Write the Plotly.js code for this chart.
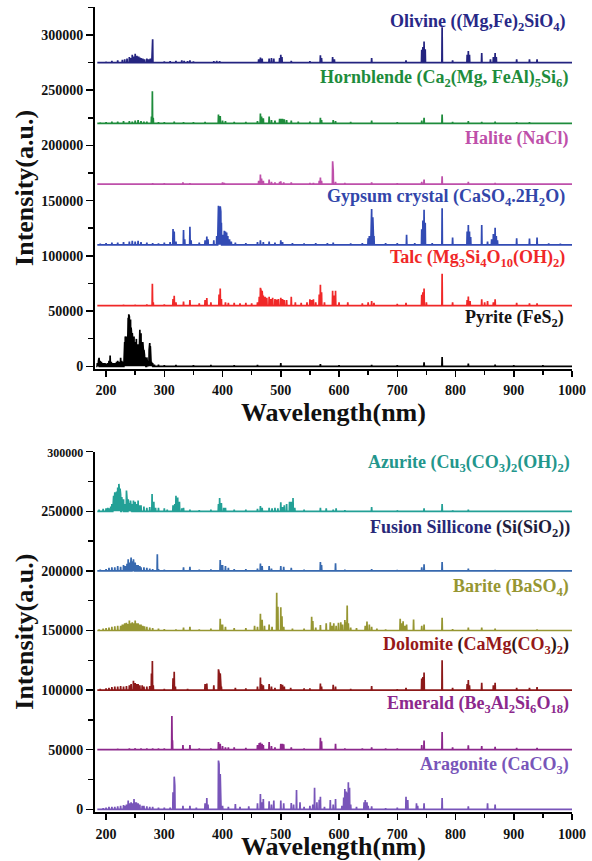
<!DOCTYPE html>
<html>
<head>
<meta charset="utf-8">
<script src="https://cdn.plot.ly/plotly-3.0.1.min.js"></script>
<style>html,body{margin:0;padding:0;background:#fff}</style>
</head>
<body>
<div id="chart" style="width:592px;height:861px"></div>
<script>
// ---- DATA: [wavelength (nm), intensity above the spectrum's offset (a.u.)] ----
const olivine = [[200,800],[210,1500],[220,2000],[228,2500],[232,3000],[236,3500],[240,5000],[242,4000],[245,7000],[248,5500],[250,8000],[253,6000],[256,5500],[258,4500],[260,4000],[263,3500],[266,3000],[270,3500],[273,3000],[276,3500],[279,18000],[280,21000],[300,1000],[310,1200],[320,1500],[330,2000],[334,1500],[340,1200],[344,2000],[350,1000],[385,1200],[390,1500],[395,1200],[462,3000],[465,4500],[468,3500],[480,3500],[484,4000],[488,3500],[498,4000],[500,7000],[502,5000],[518,1500],[550,1200],[568,6500],[570,4000],[589,5000],[592,3000],[656,4000],[715,2000],[742,11500],[744,14000],[746,19000],[748,12000],[777,32000],[795,2000],[820,7000],[822,10500],[824,7000],[845,8500],[860,3000],[865,5000],[868,8500],[870,5000],[905,3000],[927,2800],[940,3000]];
const hornblende = [[190,800],[200,1000],[210,1500],[220,1500],[230,2000],[240,2000],[245,1500],[250,2500],[255,3000],[260,2000],[265,1500],[270,1500],[278,6000],[279.5,29000],[281,5000],[290,1000],[300,1000],[317,1500],[333,1000],[350,1000],[370,1200],[393,8000],[396,6500],[400,2500],[405,2000],[420,1200],[440,1200],[460,2000],[465,8800],[467,6000],[470,4500],[480,6000],[484,3000],[490,2500],[498,4000],[500,4000],[503,4000],[506,3500],[510,3000],[518,2500],[530,1500],[550,1500],[568,5000],[570,3000],[590,3000],[594,2000],[620,1200],[656,2500],[700,1000],[742,2500],[746,5000],[777,7900],[795,1200],[822,2000],[845,1200],[868,1500],[905,1000],[927,1000]];
const halite = [[280,800],[300,600],[332,1500],[344,800],[400,1500],[403,1000],[462,3000],[465,8500],[467,5000],[470,3000],[480,4000],[484,2000],[490,1500],[498,2000],[500,2500],[505,1500],[518,1500],[550,1000],[556,1000],[566,3000],[568,6000],[570,3000],[589,20600],[590,12000],[594,2000],[610,1000],[656,1500],[700,800],[742,2000],[746,4000],[777,7000],[822,2000],[868,1000]];
const gypsum = [[190,1000],[200,1500],[210,2000],[220,2000],[230,2500],[240,3000],[245,3500],[250,3000],[255,3500],[260,2500],[270,2000],[280,1500],[290,1200],[300,2000],[310,2500],[315,14200],[317,12000],[320,3000],[333,13300],[335,5000],[344,16400],[346,4000],[360,2000],[370,4000],[373,7500],[375,5000],[385,4000],[390,8000],[392,33000],[393,35400],[394,34000],[395,34000],[396,34800],[397,30000],[398,20000],[400,9000],[403,12700],[405,12000],[407,11000],[409,8000],[412,5000],[415,3000],[422,2000],[440,1500],[460,2500],[465,4000],[470,2500],[480,3000],[490,2000],[500,4000],[503,2500],[520,1500],[540,1200],[560,1500],[580,1500],[590,2000],[620,1200],[640,1500],[650,6000],[652,8000],[655,30000],[656,32400],[658,25000],[660,8000],[680,1500],[700,1500],[716,9000],[730,1500],[742,14000],[744,22000],[746,31800],[748,20000],[760,1500],[777,33000],[795,6600],[820,12000],[822,17900],[824,12000],[826,7000],[845,17900],[855,3000],[862,5000],[865,9700],[868,15500],[870,8000],[872,4000],[905,6000],[927,5700],[940,6600],[960,1200],[980,1000]];
const talc = [[230,800],[250,800],[270,1000],[279.5,19700],[281,3000],[300,1000],[315,6000],[317,8800],[320,3000],[333,3500],[344,5000],[360,2000],[370,5000],[373,6700],[380,3000],[394,10000],[396,15500],[398,6000],[405,3000],[410,2500],[420,2500],[430,2000],[440,2500],[450,2000],[460,3000],[463,8000],[465,16000],[466,14000],[468,13300],[470,9000],[473,8000],[476,7000],[480,8000],[483,6000],[486,7000],[490,6000],[493,5500],[496,6000],[500,7000],[503,6000],[506,5000],[510,5000],[518,8000],[525,3000],[535,2500],[545,3000],[550,5700],[553,5000],[556,5700],[560,3000],[566,10000],[568,18800],[570,12000],[575,3000],[589,13300],[591,9000],[594,13300],[600,3000],[615,3000],[640,2000],[650,3000],[656,4000],[660,2500],[700,1500],[715,2500],[742,9700],[744,12000],[746,15500],[750,3000],[777,28800],[795,3000],[820,5000],[822,8200],[825,4000],[845,5700],[850,3000],[855,4000],[865,3000],[868,5700],[905,2500],[927,2000],[940,2000]];
const pyrite = [[185,3000],[187,5000],[188,7600],[190,5000],[192,4000],[195,3000],[198,3000],[200,2500],[203,3000],[205,5000],[207,9700],[209,4000],[212,3000],[215,3000],[218,4000],[220,5000],[222,4000],[225,7600],[227,5000],[229,4000],[231,10000],[232,22000],[233,27000],[234,25000],[235,27000],[236,20000],[237,35000],[238,44000],[239,47000],[240,45000],[241,38000],[242,42400],[243,35000],[244,28000],[245,30000],[246,22000],[247,20000],[248,27000],[249,18000],[250,22000],[251,20000],[252,24800],[253,18000],[254,15000],[255,20000],[256,14000],[257,18000],[258,33000],[259,28000],[260,30000],[261,20000],[262,18000],[263,22000],[264,15000],[265,15000],[266,10000],[267,8000],[268,6000],[270,8000],[272,5000],[274,15000],[275,21000],[276,18000],[278,4000],[280,3000],[283,1500],[290,1500],[300,1000],[320,1200],[350,1000],[380,1200],[420,1000],[460,1200],[500,3000],[568,2000],[600,1000],[656,1200],[700,1000],[746,3500],[777,8500],[822,2500],[868,1500],[900,1000],[950,1000]];
const azurite = [[188,1500],[195,2000],[200,2500],[203,3000],[205,2500],[208,4000],[210,6000],[212,9000],[213,13000],[214,11000],[215,16000],[216,12000],[217,14000],[218,16500],[219,13000],[220,20000],[221,15000],[222,23000],[223,17000],[224,19000],[225,14000],[227,12000],[229,8000],[230,10000],[232,6000],[235,17400],[236,10000],[238,10000],[240,7000],[242,9000],[244,6000],[247,9000],[250,8000],[252,6000],[255,9000],[258,5000],[260,5000],[265,4000],[270,3000],[275,3500],[279,14500],[282,8000],[285,3000],[290,3000],[300,2500],[305,1500],[315,5000],[318,6000],[320,13000],[323,11600],[326,8000],[330,2500],[333,3000],[344,1500],[360,1000],[380,1500],[393,6000],[395,11200],[398,7000],[402,3000],[405,3000],[420,1500],[440,1500],[460,2000],[465,4500],[468,3000],[480,3000],[485,2500],[490,3000],[495,2500],[500,7500],[503,3500],[506,5000],[510,6200],[515,8100],[518,8000],[521,11200],[524,3000],[540,1500],[568,3000],[578,2500],[590,1500],[595,2500],[610,1000],[656,3500],[700,800],[746,2500],[777,6200],[795,800],[822,1500]];
const fusionSilicone = [[190,1000],[200,1500],[205,2500],[210,3000],[215,3000],[220,4000],[225,3500],[230,5000],[233,4000],[236,6000],[238,9800],[240,7000],[242,9000],[243,11200],[245,8000],[247,9800],[248,7000],[250,7000],[252,5000],[255,5000],[258,4000],[260,3000],[265,3000],[270,2500],[275,2000],[280,1500],[288,14000],[290,1500],[300,1000],[333,3000],[344,3500],[360,1000],[380,1200],[396,9200],[398,5000],[400,5000],[405,4000],[410,2500],[420,1500],[440,1500],[460,2000],[465,6100],[468,4000],[480,4000],[484,2000],[500,4000],[505,3500],[518,2500],[540,1000],[568,7500],[570,5000],[594,6400],[610,1000],[656,1500],[700,800],[742,3000],[746,5600],[777,7500],[822,2000],[868,800]];
const barite = [[188,1000],[195,1500],[200,2000],[205,2500],[210,3000],[215,3500],[220,4000],[225,4000],[228,5000],[230,5000],[232,6000],[235,6500],[237,5500],[240,8400],[242,6000],[245,7000],[247,6000],[250,8400],[252,6000],[255,6000],[258,5000],[260,5000],[263,4000],[266,3500],[270,3000],[275,2500],[280,2000],[290,1500],[300,1200],[320,1000],[333,2500],[344,3000],[360,1000],[380,1500],[396,9800],[398,5000],[400,5000],[405,3000],[420,2000],[440,2000],[455,4000],[460,3000],[465,14000],[468,9000],[472,4000],[480,5000],[485,3000],[493,31600],[495,20000],[500,19600],[502,12000],[505,3000],[520,1500],[540,1500],[553,11500],[555,8000],[560,2500],[568,4500],[578,6000],[585,7000],[588,4000],[591,6000],[595,4000],[599,6400],[603,7000],[606,5000],[610,8700],[612,7000],[614,21000],[616,6000],[620,2500],[630,2000],[645,4000],[648,7500],[652,5000],[656,3000],[665,1500],[680,1000],[705,9800],[708,6000],[710,7800],[713,4000],[716,5000],[728,9200],[742,4000],[746,5000],[777,10600],[795,1200],[822,2500],[845,2500],[868,1500],[940,800]];
const dolomite = [[190,1000],[200,1500],[205,2000],[210,2500],[215,3000],[220,3000],[225,3500],[230,3000],[235,3500],[240,4000],[243,5000],[247,7800],[250,6000],[253,5000],[255,5000],[258,4000],[262,4000],[265,3000],[270,3000],[275,3500],[278,14000],[279.5,24400],[281,4000],[300,1000],[315,10000],[317,15400],[319,3000],[340,1000],[370,5000],[373,5600],[385,4000],[393,17400],[394,15000],[396,14000],[398,3000],[422,2000],[440,1500],[460,3000],[465,10600],[467,5000],[470,4000],[480,5000],[484,3000],[490,2000],[500,5000],[503,4500],[506,3000],[517,2000],[540,1500],[550,1500],[568,5600],[570,3000],[590,4500],[594,3000],[620,1000],[656,3500],[700,800],[715,2000],[742,9800],[744,11000],[746,14800],[777,25000],[795,2000],[820,5000],[822,8400],[824,4000],[845,6200],[865,4000],[868,6200],[905,2000],[927,2000],[940,2500]];
const emerald = [[220,800],[240,1000],[250,1200],[260,1000],[270,1000],[280,1200],[290,1000],[300,1000],[313,28300],[314,8000],[332,4000],[344,4000],[360,1000],[380,1000],[393,6400],[396,5000],[400,3000],[405,2000],[410,2000],[420,2000],[440,1500],[460,4000],[463,5600],[465,6000],[468,5000],[470,4000],[480,6400],[484,3000],[490,2000],[500,5000],[503,5000],[505,4500],[518,2000],[540,1200],[568,10000],[570,7000],[594,5000],[610,1000],[640,1200],[656,2000],[680,1000],[700,1000],[742,4000],[746,7800],[777,14800],[795,2000],[822,3600],[845,3000],[868,2500],[905,1500],[940,1500]];
const aragonite = [[195,1000],[200,1500],[205,2000],[210,2000],[215,2000],[220,2500],[225,3000],[230,3500],[233,3000],[235,4000],[238,7300],[240,5000],[243,6000],[245,5000],[248,8700],[250,6000],[252,6000],[255,5000],[258,4000],[262,3000],[265,3000],[270,2500],[275,2000],[280,2000],[290,1500],[300,1500],[310,1500],[315,14300],[317,27400],[318,20000],[332,3000],[344,3000],[355,1500],[370,5000],[373,9500],[375,4000],[393,40900],[394,38000],[396,29700],[397,25000],[400,3000],[410,2000],[422,4500],[430,2000],[445,2500],[460,5000],[465,12900],[468,6000],[470,8700],[480,6700],[484,4000],[488,7300],[500,7300],[505,5000],[518,5300],[522,4000],[527,16200],[533,5900],[540,2000],[550,3000],[555,4000],[558,18000],[562,6000],[566,8000],[568,10600],[575,2000],[585,7800],[590,4000],[594,8700],[605,3000],[608,10000],[610,17100],[612,15000],[614,14000],[616,22700],[618,18000],[620,4000],[630,2000],[643,6000],[645,7800],[648,6000],[650,3000],[656,2500],[680,1000],[700,1500],[715,10600],[718,7800],[733,5000],[735,3000],[746,5000],[777,9500],[822,2500],[855,5000],[868,3900]];

// spectrum offsets (a.u.)
const topOffsets = [275000, 220000, 165000, 110000, 55000, 0];
const bottomOffsets = [250000, 200000, 150000, 100000, 50000, 0];
const topNames = ['Olivine', 'Hornblende', 'Halite', 'Gypsum crystal', 'Talc', 'Pyrite'];
const bottomNames = ['Azurite', 'Fusion Sillicone', 'Barite', 'Dolomite', 'Emerald', 'Aragonite'];
const topLabels = [
  'Olivine ((Mg,Fe)<sub>2</sub>SiO<sub>4</sub>)',
  'Hornblende (Ca<sub>2</sub>(Mg, FeAl)<sub>5</sub>Si<sub>6</sub>)',
  'Halite (NaCl)',
  'Gypsum crystal (CaSO<sub>4</sub>.2H<sub>2</sub>O)',
  'Talc (Mg<sub>3</sub>Si<sub>4</sub>O<sub>10</sub>(OH)<sub>2</sub>)',
  'Pyrite (FeS<sub>2</sub>)'
];
const bottomLabels = [
  'Azurite (Cu<sub>3</sub>(CO<sub>3</sub>)<sub>2</sub>(OH)<sub>2</sub>)',
  'Fusion Sillicone <span style="color:rgb(30,30,60)">(Si(SiO<sub>2</sub>))</span>',
  'Barite (BaSO<sub>4</sub>)',
  'Dolomite <span style="color:rgb(40,20,20)">(</span>CaMg<span style="color:rgb(40,20,20)">(</span>CO<sub>3</sub><span style="color:rgb(40,20,20)">)</span><sub>2</sub><span style="color:rgb(40,20,20)">)</span>',
  'Emerald (Be<sub>3</sub>Al<sub>2</sub>Si<sub>6</sub>O<sub>18</sub>)',
  'Aragonite (CaCO<sub>3</sub>)'
];
const xTicks = [200, 300, 400, 500, 600, 700, 800, 900, 1000];
const yTicks = [0, 50000, 100000, 150000, 200000, 250000, 300000];

// ---- STYLE ----
const topSpectra = [olivine, hornblende, halite, gypsum, talc, pyrite];
const bottomSpectra = [azurite, fusionSilicone, barite, dolomite, emerald, aragonite];
const topLineColors = ['rgb(36,36,128)', 'rgb(30,140,60)', 'rgb(190,80,170)', 'rgb(50,75,180)', 'rgb(240,40,40)', 'rgb(0,0,0)'];
const topTextColors = ['rgb(40,40,135)', 'rgb(30,140,60)', 'rgb(190,80,170)', 'rgb(50,70,170)', 'rgb(240,40,40)', 'rgb(20,20,20)'];
const bottomLineColors = ['rgb(35,160,150)', 'rgb(55,105,175)', 'rgb(150,150,50)', 'rgb(140,25,25)', 'rgb(140,40,140)', 'rgb(120,85,185)'];
const bottomTextColors = ['rgb(35,150,140)', 'rgb(40,40,120)', 'rgb(150,150,50)', 'rgb(150,25,25)', 'rgb(140,40,140)', 'rgb(120,85,185)'];
const topLabelPx = [[568, 22], [570, 78.5], [570, 138], [567, 197.5], [567, 258.5], [566, 318.5]];
const bottomLabelPx = [[572, 463], [572, 528.5], [571, 587], [571, 645], [571, 704.5], [571, 765]];

const W = 592, H = 861;
const X_START = 185, X_END = 1000, HALF = 0.45;

function spectrumXY(peaks, offset) {
  const sorted = peaks.slice().sort((a, b) => a[0] - b[0]);
  const xs = [X_START], ys = [offset];
  sorted.forEach(([nm, h]) => {
    xs.push(nm - HALF, nm, nm + HALF);
    ys.push(offset, offset + h, offset);
  });
  xs.push(X_END); ys.push(offset);
  return {xs, ys};
}

const traces = [];
topSpectra.forEach((s, i) => {
  const d = spectrumXY(s, topOffsets[i]);
  traces.push({x: d.xs, y: d.ys, type: 'scatter', mode: 'lines', name: topNames[i],
    line: {color: topLineColors[i], width: 1.7}, xaxis: 'x', yaxis: 'y', hoverinfo: 'skip'});
});
bottomSpectra.forEach((s, i) => {
  const d = spectrumXY(s, bottomOffsets[i]);
  traces.push({x: d.xs, y: d.ys, type: 'scatter', mode: 'lines', name: bottomNames[i],
    line: {color: bottomLineColors[i], width: 1.7}, xaxis: 'x2', yaxis: 'y2', hoverinfo: 'skip'});
});

const FONT = '"Liberation Serif", "Times New Roman", Times, serif';
const annotations = [];
function addLabels(labels, px, colors) {
  labels.forEach((t, i) => {
    annotations.push({text: '<b>' + t + '</b>', xref: 'paper', yref: 'paper',
      x: px[i][0] / W, y: 1 - px[i][1] / H, xanchor: 'right', yanchor: 'middle', showarrow: false,
      font: {family: FONT, size: 18, color: colors[i], weight: 'bold'}});
  });
}
addLabels(topLabels, topLabelPx, topTextColors);
addLabels(bottomLabels, bottomLabelPx, bottomTextColors);

function xAxis(anchor, domain) {
  return {anchor: anchor, domain: domain, range: [181, 1000], tickmode: 'array', tickvals: xTicks,
    ticks: 'outside', ticklen: 6, tickwidth: 1.5, tickcolor: '#000', ticklabelstandoff: 2,
    minor: {tickmode: 'linear', tick0: 150, dtick: 50, ticks: 'outside', ticklen: 4, tickwidth: 1.5, tickcolor: '#000', showgrid: false},
    showline: true, linewidth: 2, linecolor: '#000', showgrid: false, zeroline: false,
    tickfont: {family: FONT, size: 14, color: '#111', weight: 'bold'},
    title: {text: '<b>Wavelength(nm)</b>', font: {family: FONT, size: 26, color: '#111', weight: 'bold'}, standoff: 0}};
}
function yAxis(anchor, domain, range, ticktext) {
  return {anchor: anchor, domain: domain, range: range, tickmode: 'array', tickvals: yTicks, ticktext: ticktext,
    ticks: 'outside', ticklen: 7, tickwidth: 1.5, tickcolor: '#000',
    minor: {tickmode: 'linear', tick0: 25000, dtick: 50000, ticks: 'outside', ticklen: 5, tickwidth: 1.5, tickcolor: '#000', showgrid: false},
    showline: true, linewidth: 2, linecolor: '#000', showgrid: false, zeroline: false,
    tickfont: {family: FONT, size: 14, color: '#111', weight: 'bold'},
    title: {text: '<b>Intensity(a.u.)</b>', font: {family: FONT, size: 26, color: '#111', weight: 'bold'}, standoff: 0}};
}
const xd = [95 / W, 572 / W];
const topTickText = yTicks.map(v => String(v));
const bottomTickText = yTicks.map(v => v === 300000 ? '<span style="font-size:12px">' + v + '</span>' : String(v));

const layout = {
  width: W, height: H, margin: {l: 0, r: 0, t: 0, b: 0},
  paper_bgcolor: '#fff', plot_bgcolor: '#fff', showlegend: false,
  font: {family: FONT},
  xaxis: xAxis('y', xd),
  yaxis: yAxis('x', [(H - 368.5) / H, (H - 7.3) / H], [-2000, 325000], topTickText),
  xaxis2: xAxis('y2', xd),
  yaxis2: yAxis('x2', [(H - 811.7) / H, (H - 451.7) / H], [-2000, 300000], bottomTickText),
  annotations: annotations
};
Plotly.newPlot('chart', traces, layout, {displayModeBar: false, staticPlot: true});
</script>
</body>
</html>
